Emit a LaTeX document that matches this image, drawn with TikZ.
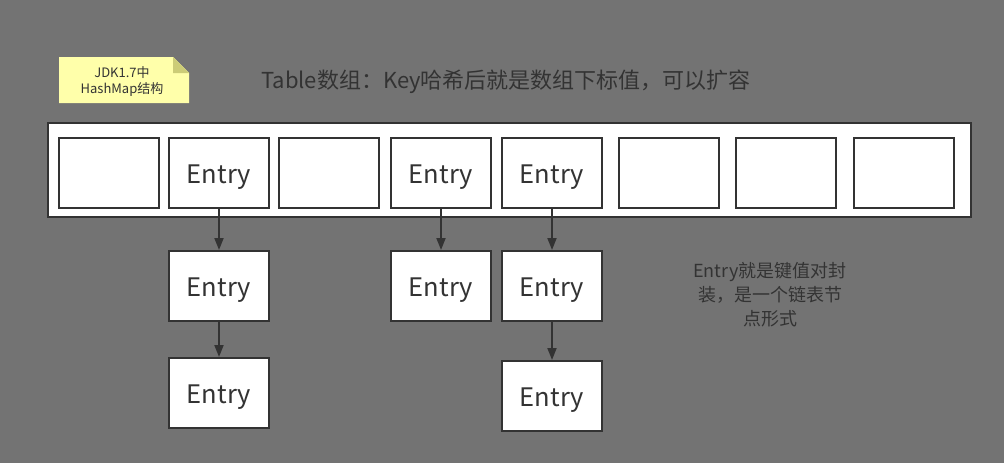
\documentclass[tikz,border=0pt]{standalone}
\usepackage{fontspec}
\setmainfont{Noto Sans CJK SC}
\usetikzlibrary{arrows.meta}
\definecolor{bg}{HTML}{737373}
\definecolor{ink}{HTML}{333333}
\definecolor{notey}{HTML}{FFFFAA}
\definecolor{notef}{HTML}{CCCC77}
\newcommand{\ent}{\raisebox{0pt}[21.5pt][1.5pt]{Entry}}
\tikzset{
  cell/.style={draw=ink, line width=2pt, fill=white, minimum width=100pt, minimum height=70pt, inner sep=0pt, font=\fontsize{25.5}{28}\selectfont, text=ink},
  link/.style={draw=ink, line width=1.8pt, -{Triangle[length=12pt,width=9pt]}},
}
\begin{document}
\begin{tikzpicture}[x=1pt,y=-1pt]
\fill[bg] (0,0) rectangle (1004,463);
\useasboundingbox (0,0) rectangle (1004,463);
% note
\fill[notey] (59,57) -- (173,57) -- (189,73) -- (189,103) -- (59,103) -- cycle;
\fill[notef] (173,57) -- (189,73) -- (173,73) -- cycle;
\node[text=ink, align=center, font=\fontsize{13}{16}\selectfont] (note) at (122,82) {JDK1.7中\\HashMap结构};
% title
\node[text=ink, font=\fontsize{22}{24}\selectfont] (title) at (506,82) {Table数组：Key哈希后就是数组下标值，可以扩容};
% container
\node[draw=ink, line width=2pt, fill=white, minimum width=923pt, minimum height=94pt, inner sep=0pt] (table) at (509.5,170) {};
% cells
\node[cell] (c1) at (108.5,173) {};
\node[cell] (c2) at (219,173) {\ent};
\node[cell] (c3) at (329,173) {};
\node[cell] (c4) at (441,173) {\ent};
\node[cell] (c5) at (552,173) {\ent};
\node[cell] (c6) at (669,173) {};
\node[cell] (c7) at (786,173) {};
\node[cell] (c8) at (903.5,173) {};
% chains
\node[cell] (e21) at (219,286) {\ent};
\node[cell] (e22) at (219,393) {\ent};
\node[cell] (e41) at (441,286) {\ent};
\node[cell] (e51) at (552,286) {\ent};
\node[cell] (e52) at (552,396) {\ent};
\draw[link] (c2) -- (e21);
\draw[link] (e21) -- (e22);
\draw[link] (c4) -- (e41);
\draw[link] (c5) -- (e51);
\draw[link] (e51) -- (e52);
% description
\node[text=ink, align=center, font=\fontsize{18}{24}\selectfont] (desc) at (770,295) {Entry就是键值对封\\装，是一个链表节\\点形式};
\end{tikzpicture}
\end{document}
